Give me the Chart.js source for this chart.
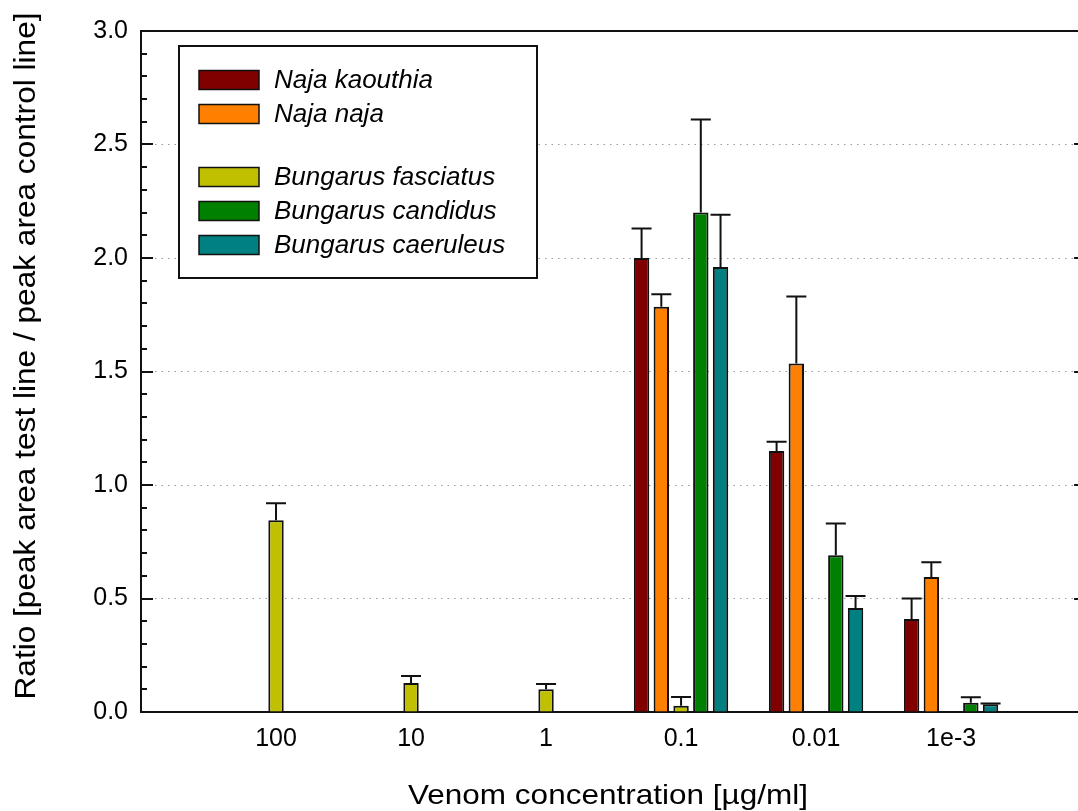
<!DOCTYPE html>
<html>
<head>
<meta charset="utf-8">
<script src="https://cdn.jsdelivr.net/npm/chart.js@4"></script>
<style>
  html, body { margin: 0; padding: 0; overflow: hidden; background: #fff; }
  canvas { display: block; }
</style>
</head>
<body>
<canvas id="venomChart" width="1078" height="811" style="width:1078px;height:811px"></canvas>
<script>
// concentraciones en el eje x (posiciones 1..6)
const categories = ["100", "10", "1", "0.1", "0.01", "1e-3"];
const yTicks = [0, 0.5, 1.0, 1.5, 2.0, 2.5, 3.0];

// valores medidos
const kaouthia     = [null, null, null, 2.00, 1.15, 0.41];
const kaouthiaErr  = [null, null, null, 0.13, 0.04, 0.09];
const naja         = [null, null, null, 1.785, 1.535, 0.595];
const najaErr      = [null, null, null, 0.055, 0.295, 0.065];
const fasciatus    = [0.845, 0.128, 0.10, 0.028, null, null];
const fasciatusErr = [0.075, 0.031, 0.023, 0.038, null, null];
const candidus     = [null, null, null, 2.20, 0.69, 0.041];
const candidusErr  = [null, null, null, 0.41, 0.14, 0.024];
const caeruleus    = [null, null, null, 1.96, 0.458, 0.034];
const caeruleusErr = [null, null, null, 0.23, 0.053, 0.003];

const FONT = "'Liberation Sans', Arial, sans-serif";

function ds(label, vals, err, color) {
  return {
    label, err,
    data: vals.map((v, i) => ({ x: i + 1, y: v })),
    backgroundColor: color,
    borderColor: "#111",
    borderWidth: 2,
    categoryPercentage: 0.731,
    barPercentage: 0.78,
  };
}

// barras de error, bordes, marcas y leyenda
const extras = {
  id: "extras",
  afterDatasetsDraw(chart) {
    const { ctx } = chart;
    const ys = chart.scales.y;
    ctx.save();
    ctx.strokeStyle = "#111";
    ctx.lineWidth = 2;
    chart.data.datasets.forEach((d, i) => {
      const meta = chart.getDatasetMeta(i);
      meta.data.forEach((bar, j) => {
        const v = d.data[j].y;
        if (v == null || d.err[j] == null) return;
        const yt = ys.getPixelForValue(v + d.err[j]);
        ctx.beginPath();
        ctx.moveTo(bar.x, bar.y);
        ctx.lineTo(bar.x, yt);
        ctx.moveTo(bar.x - 10, yt);
        ctx.lineTo(bar.x + 10, yt);
        ctx.stroke();
      });
    });

    // leyenda con hueco entre Naja y Bungarus
    const bx = 179, by = 46, bw = 358, bh = 232;
    ctx.fillStyle = "#fff";
    ctx.fillRect(bx, by, bw, bh);
    ctx.strokeRect(bx, by, bw, bh);
    const rows = [80, 114, 177, 211, 245];
    ctx.font = "italic 26px " + FONT;
    ctx.textBaseline = "middle";
    chart.data.datasets.forEach((d, i) => {
      const y = rows[i];
      ctx.fillStyle = d.backgroundColor;
      ctx.fillRect(199, y - 9.5, 60, 19);
      ctx.lineWidth = 1.5;
      ctx.strokeRect(199, y - 9.5, 60, 19);
      ctx.fillStyle = "#000";
      ctx.fillText(d.label, 274, y + 1);
    });
    ctx.restore();
  },
  afterDraw(chart) {
    const { ctx, chartArea: a } = chart;
    const ys = chart.scales.y;
    const xr = chart.scales.x.getPixelForValue(7); // borde derecho (fuera del lienzo)
    ctx.save();
    ctx.strokeStyle = "#111";
    ctx.lineWidth = 2;
    ctx.beginPath();
    ctx.moveTo(a.left - 1, a.top);
    ctx.lineTo(xr, a.top);
    ctx.lineTo(xr, a.bottom);
    ctx.stroke();
    // marcas interiores
    for (let k = 1; k < 30; k++) {
      const y = Math.round(ys.getPixelForValue(k / 10));
      const len = k % 5 === 0 ? 12 : 6;
      ctx.beginPath();
      ctx.moveTo(a.left, y);
      ctx.lineTo(a.left + len, y);
      ctx.moveTo(xr, y);
      ctx.lineTo(xr - len, y);
      ctx.stroke();
    }
    // títulos de ejes
    ctx.fillStyle = "#000";
    ctx.textBaseline = "alphabetic";
    ctx.textAlign = "center";
    ctx.font = "28px " + FONT;
    const xt = "Venom concentration [µg/ml]";
    let w = ctx.measureText(xt).width;
    ctx.save();
    ctx.translate(608, 804);
    ctx.scale(400 / w, 1);
    ctx.fillText(xt, 0, 0);
    ctx.restore();

    ctx.font = "30px " + FONT;
    const yt = "Ratio [peak area test line / peak area control line]";
    w = ctx.measureText(yt).width;
    ctx.save();
    ctx.translate(35, 356);
    ctx.rotate(-Math.PI / 2);
    ctx.scale(687 / w, 1);
    ctx.fillText(yt, 0, 0);
    ctx.restore();
    ctx.restore();
  },
};

new Chart(document.getElementById("venomChart"), {
  type: "bar",
  data: {
    datasets: [
      ds("Naja kaouthia", kaouthia, kaouthiaErr, "#800000"),
      ds("Naja naja", naja, najaErr, "#ff8000"),
      ds("Bungarus fasciatus", fasciatus, fasciatusErr, "#c0c000"),
      ds("Bungarus candidus", candidus, candidusErr, "#008000"),
      ds("Bungarus caeruleus", caeruleus, caeruleusErr, "#008080"),
    ],
  },
  options: {
    responsive: false,
    animation: false,
    devicePixelRatio: 1,
    layout: { padding: { top: 31, right: 0, left: 0, bottom: 0 } },
    plugins: { legend: { display: false }, tooltip: { enabled: false } },
    scales: {
      x: {
        type: "linear",
        offset: false,
        min: 0,
        max: 6.94,
        afterBuildTicks: (s) => { s.ticks = categories.map((c, i) => ({ value: i + 1 })); },
        grid: { display: false, drawTicks: false },
        border: { display: true, color: "#111", width: 2 },
        ticks: {
          autoSkip: false, maxRotation: 0, padding: 12,
          color: "#000", font: { family: FONT, size: 25 },
          callback: (v) => categories[v - 1],
        },
        afterFit: (s) => { s.height = 99; s.paddingLeft = 0; s.paddingRight = 0; },
      },
      y: {
        min: 0, max: 3,
        afterBuildTicks: (s) => { s.ticks = yTicks.map((v) => ({ value: v })); },
        grid: { color: "#999", lineWidth: 1, drawTicks: false },
        border: { display: true, color: "#111", width: 2, dash: [1.5, 5] },
        ticks: {
          padding: 13, color: "#000", font: { family: FONT, size: 25 },
          callback: (v) => Number(v).toFixed(1),
        },
        afterFit: (s) => { s.width = 141; },
      },
    },
  },
  plugins: [extras],
});
</script>
</body>
</html>
